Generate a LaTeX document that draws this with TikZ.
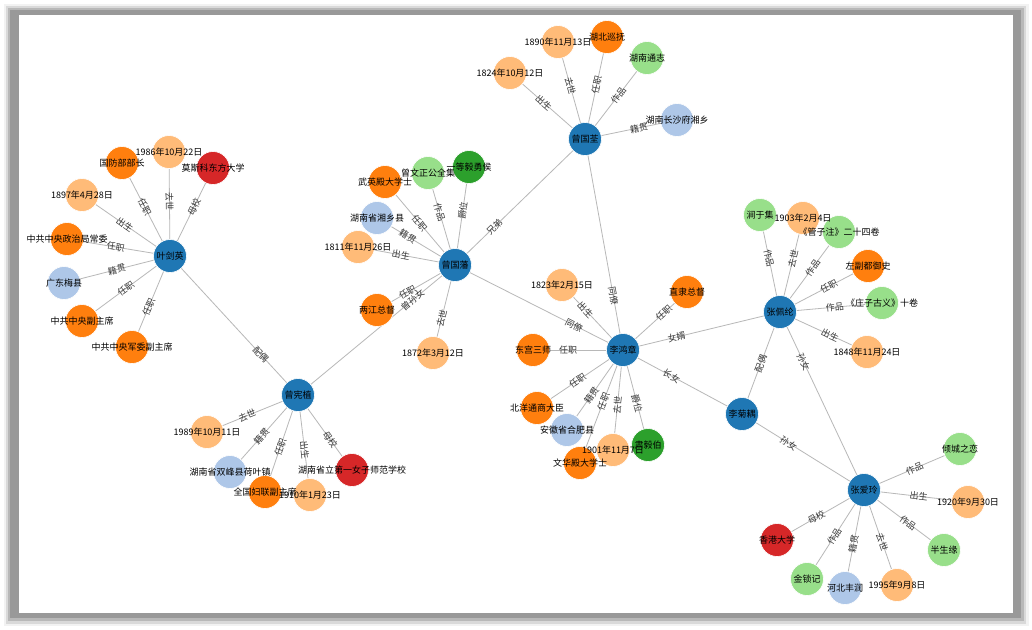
\documentclass[tikz,border=0pt]{standalone}
\usepackage{fontspec}
\setmainfont{Noto Sans CJK SC}
\usetikzlibrary{calc}
\definecolor{hub}{HTML}{1F77B4}
\definecolor{job}{HTML}{FF7F0E}
\definecolor{dat}{HTML}{FFBB78}
\definecolor{wrk}{HTML}{98DF8A}
\definecolor{ttl}{HTML}{2CA02C}
\definecolor{sch}{HTML}{D62728}
\definecolor{plc}{HTML}{AEC7E8}
\pgfdeclarelayer{bg}
\pgfdeclarelayer{fg}
\pgfsetlayers{bg,main,fg}
\tikzset{
  nd/.style={circle,minimum size=33pt,inner sep=0pt,draw=white,line width=0.6pt},
  lbl/.style={font=\fontsize{9}{9}\selectfont,text=black,inner sep=0pt},
  ed/.style={draw=black!28,line width=0.8pt},
  el/.style={font=\fontsize{9}{9}\selectfont,text=black!78,inner sep=0.5pt,sloped},
}
\newcommand\N[5]{\node[nd,fill=#4] (#1) at (#2,#3) {};
  \begin{pgfonlayer}{fg}\node[lbl] at (#1.center) {#5};\end{pgfonlayer}}
\newcommand\E[3]{\begin{pgfonlayer}{bg}\draw[ed] (#1) -- (#2);
  \path (#1.center) -- ($(#1.center)!110pt!(#2.center)$) node[midway,el]{#3};\end{pgfonlayer}}
\begin{document}
\begin{tikzpicture}[x=1pt,y=-1pt]
\useasboundingbox (0,0) rectangle (1032,629);
\begin{pgfonlayer}{bg}
\fill[black!5] (4,4) rectangle (1029,626);
\fill[black!15] (6,6) rectangle (1026,624);
\fill[black!28] (8,8) rectangle (1024,621);
\fill[black!40] (10,10) rectangle (1021,618);
\fill[white] (19,15) rectangle (1013,613);
\end{pgfonlayer}
% 曾国荃
\N{zgq}{585}{139}{hub}{曾国荃}
\N{d1824}{510}{73}{dat}{1824年10月12日}
\N{d1890}{558}{42}{dat}{1890年11月13日}
\N{hbxf}{607}{37}{job}{湖北巡抚}
\N{hntz}{647}{58}{wrk}{湖南通志}
\N{hncs}{677}{120}{plc}{湖南长沙府湘乡}
% 叶剑英
\N{ye}{170}{256}{hub}{叶剑英}
\N{d1986}{169}{152}{dat}{1986年10月22日}
\N{msk}{213}{168}{sch}{莫斯科东方大学}
\N{gfb}{122}{163}{job}{国防部部长}
\N{d1897}{82}{195}{dat}{1897年4月28日}
\N{zzj}{67}{239}{job}{中共中央政治局常委}
\N{gdmx}{64}{283}{plc}{广东梅县}
\N{zfzx}{82}{321}{job}{中共中央副主席}
\N{jwfzx}{132}{347}{job}{中共中央军委副主席}
% 曾国藩
\N{zgf}{455}{265}{hub}{曾国藩}
\N{wyd}{385}{182}{job}{武英殿大学士}
\N{wzg}{428}{173}{wrk}{曾文正公全集}
\N{ydy}{469}{167}{ttl}{一等毅勇侯}
\N{hnxx}{377}{218}{plc}{湖南省湘乡县}
\N{d1811}{358}{247}{dat}{1811年11月26日}
\N{ljzd}{377}{310}{job}{两江总督}
\N{d1872}{433}{353}{dat}{1872年3月12日}
% 曾宪植
\N{zxz}{298}{395}{hub}{曾宪植}
\N{d1989}{207}{432}{dat}{1989年10月11日}
\N{hnsf}{230}{472}{plc}{湖南省双峰县荷叶镇}
\N{fl}{265}{492}{job}{全国妇联副主席}
\N{d1910}{310}{495}{dat}{1910年1月23日}
\N{hnsl}{352}{470}{sch}{湖南省立第一女子师范学校}
% 李鸿章
\N{lhz}{623}{350}{hub}{李鸿章}
\N{d1823}{562}{285}{dat}{1823年2月15日}
\N{zlzd}{687}{292}{job}{直隶总督}
\N{dgss}{533}{350}{job}{东宫三师}
\N{bytx}{537}{408}{job}{北洋通商大臣}
\N{ahhf}{567}{430}{plc}{安徽省合肥县}
\N{whd}{580}{463}{job}{文华殿大学士}
\N{d1901}{613}{450}{dat}{1901年11月7日}
\N{syb}{648}{445}{ttl}{肃毅伯}
% 张佩纶
\N{zpl}{780}{312}{hub}{张佩纶}
\N{jyj}{760}{215}{wrk}{涧于集}
\N{d1903}{803}{218}{dat}{1903年2月4日}
\N{gzz}{839}{232}{wrk}{《管子注》二十四卷}
\N{zfd}{868}{266}{job}{左副都御史}
\N{zzgy}{882}{303}{wrk}{《庄子古义》十卷}
\N{d1848}{867}{352}{dat}{1848年11月24日}
% 李菊耦, 张爱玲
\N{ljo}{742}{414}{hub}{李菊耦}
\N{zal}{864}{490}{hub}{张爱玲}
\N{qczl}{960}{449}{wrk}{倾城之恋}
\N{d1920}{968}{502}{dat}{1920年9月30日}
\N{bsy}{944}{550}{wrk}{半生缘}
\N{d1995}{897}{585}{dat}{1995年9月8日}
\N{hbfr}{845}{588}{plc}{河北丰润}
\N{jsj}{807}{579}{wrk}{金锁记}
\N{hkdx}{777}{540}{sch}{香港大学}
% edges
\E{zgq}{d1824}{出生}
\E{zgq}{d1890}{去世}
\E{zgq}{hbxf}{任职}
\E{zgq}{hntz}{作品}
\E{zgq}{hncs}{籍贯}
\E{zgf}{zgq}{兄弟}
\E{lhz}{zgq}{同僚}
\E{ye}{d1986}{去世}
\E{ye}{msk}{母校}
\E{ye}{gfb}{任职}
\E{ye}{d1897}{出生}
\E{ye}{zzj}{任职}
\E{ye}{gdmx}{籍贯}
\E{ye}{zfzx}{任职}
\E{ye}{jwfzx}{任职}
\E{zxz}{ye}{配偶}
\E{zgf}{wyd}{任职}
\E{zgf}{wzg}{作品}
\E{zgf}{ydy}{爵位}
\E{zgf}{hnxx}{籍贯}
\E{zgf}{d1811}{出生}
\E{zgf}{ljzd}{任职}
\E{zgf}{d1872}{去世}
\E{zgf}{zxz}{曾孙女}
\E{lhz}{zgf}{同僚}
\E{zxz}{d1989}{去世}
\E{zxz}{hnsf}{籍贯}
\E{zxz}{fl}{任职}
\E{zxz}{d1910}{出生}
\E{zxz}{hnsl}{母校}
\E{lhz}{d1823}{出生}
\E{lhz}{zlzd}{任职}
\E{lhz}{dgss}{任职}
\E{lhz}{bytx}{任职}
\E{lhz}{ahhf}{籍贯}
\E{lhz}{whd}{任职}
\E{lhz}{d1901}{去世}
\E{lhz}{syb}{爵位}
\E{lhz}{zpl}{女婿}
\E{lhz}{ljo}{长女}
\E{zpl}{jyj}{作品}
\E{zpl}{d1903}{去世}
\E{zpl}{gzz}{作品}
\E{zpl}{zfd}{任职}
\E{zpl}{zzgy}{作品}
\E{zpl}{d1848}{出生}
\E{zpl}{ljo}{配偶}
\E{zpl}{zal}{孙女}
\E{ljo}{zal}{孙女}
\E{zal}{qczl}{作品}
\E{zal}{d1920}{出生}
\E{zal}{bsy}{作品}
\E{zal}{d1995}{去世}
\E{zal}{hbfr}{籍贯}
\E{zal}{jsj}{作品}
\E{zal}{hkdx}{母校}
\end{tikzpicture}
\end{document}
